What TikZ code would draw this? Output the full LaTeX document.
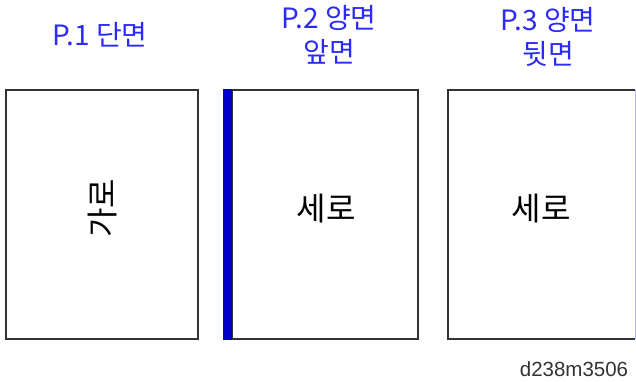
\documentclass[tikz,border=0pt]{standalone}
\usepackage{fontspec}
\newfontfamily\kr{Noto Sans CJK KR}
\newfontfamily\lab{Liberation Sans}
\definecolor{lblue}{HTML}{2B2BF5}
\definecolor{edge}{HTML}{333333}
\definecolor{bar}{HTML}{0000CC}
\definecolor{faint}{HTML}{B8B8F0}
\begin{document}
\begin{tikzpicture}[x=1pt,y=-1pt,
  page/.style={draw=edge,line width=2pt,fill=white,inner sep=0pt,minimum height=249pt},
  title/.style={text=lblue,font=\kr\fontsize{28}{34}\selectfont,align=center},
  inner/.style={text=black,font=\kr\fontsize{32}{36}\selectfont}]
\useasboundingbox (0,0) rectangle (636,382);
\node[page,minimum width=192pt] (b1) at (102,214.5) {};
\node[page,minimum width=186pt] (b2) at (325,214.5) {};
\fill[bar] (223,89) rectangle (232,340);
\node[inner] (t1) at (102,208) {\rotatebox{90}{가로}};
\node[inner] (t2) at (326,208.5) {세로};
% third page, right side cut off
\coordinate (c3tl) at (448,90);
\coordinate (c3tr) at (635,90);
\coordinate (c3bl) at (448,339);
\coordinate (c3br) at (635,339);
\draw[edge,line width=2pt] (c3tr) -- (c3tl) -- (c3bl) -- (c3br);
\draw[faint,line width=1pt] (c3tr) -- (c3br);
\node[inner] (t3) at (541,208.5) {세로};
\node[title] (l1) at (100,35) {P.1 단면};
\node[title] (l2) at (329,35) {P.2 양면\\앞면};
\node[title] (l3) at (548,37) {P.3 양면\\뒷면};
\node[text=edge,font=\lab\fontsize{20.5}{24}\selectfont] (id) at (574,369) {d238m3506};
\end{tikzpicture}
\end{document}
